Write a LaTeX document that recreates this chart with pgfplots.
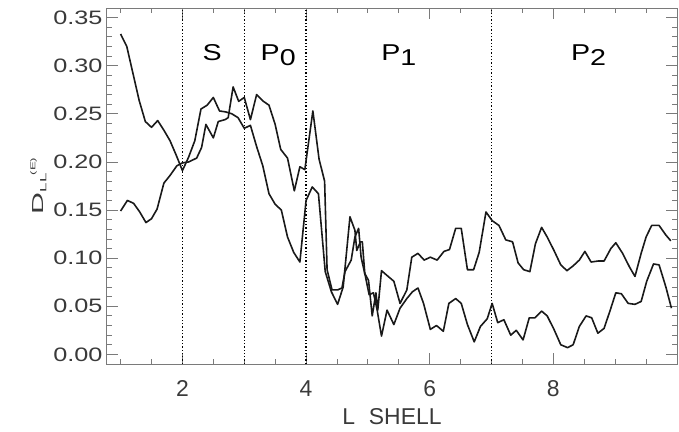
\documentclass[border=0pt]{standalone}
\usepackage{pgfplots}
\pgfplotsset{compat=1.18}
\usepackage{graphicx}
\usepackage{fontspec}
\setmainfont{Liberation Sans}
\definecolor{txt}{HTML}{3A3A3A}
\definecolor{axc}{HTML}{7A7A7A}
\newcommand{\yl}[1]{\scalebox{1.3}[1]{#1}}
\newcommand{\reg}[2]{\scalebox{1.25}[1]{#1\raisebox{-5bp}{#2}}}
\begin{document}
\begin{tikzpicture}
\useasboundingbox (-107bp,-68bp) rectangle (572bp,364bp);
\begin{axis}[
  at={(0,0)}, anchor=south west,
  scale only axis, width=570bp, height=356bp,
  xmin=0.78, xmax=10, ymin=-0.01, ymax=0.36,
  xtick={2,4,6,8}, xticklabels={2,4,6,8},
  minor xtick={1,1.5,2.5,3,3.5,4.5,5,5.5,6.5,7,7.5,8.5,9,9.5},
  ytick={0,0.05,0.10,0.15,0.20,0.25,0.30,0.35},
  yticklabels={\yl{0.00},\yl{0.05},\yl{0.10},\yl{0.15},\yl{0.20},\yl{0.25},\yl{0.30},\yl{0.35}},
  minor y tick num=4,
  tick align=inside,
  major tick length=11bp, minor tick length=5bp,
  every tick/.style={axc, line width=0.8bp},
  axis line style={axc, line width=1bp},
  xticklabel style={font=\fontsize{23}{24}\selectfont, text=txt, yshift=-13bp},
  yticklabel style={font=\fontsize{19.5}{20}\selectfont, text=txt, xshift=-1bp},
  xlabel={L\hspace{0.6em}SHELL},
  xlabel style={font=\fontsize{23}{24}\selectfont, text=txt, yshift=-5bp},
  ylabel={\scalebox{1.9}[1]{D\raisebox{-3bp}{\fontsize{9}{9}\selectfont LL}\kern-1bp\raisebox{8bp}{\fontsize{7}{7}\selectfont (E)}}},
  ylabel style={font=\fontsize{16}{16}\selectfont, text=txt, yshift=0bp},
  clip=true,
]
\addplot[black, line width=1.3bp, dash pattern=on 1.3bp off 2bp] coordinates {(2,-0.01) (2,0.36)};
\addplot[black, line width=1.3bp, dash pattern=on 1.3bp off 2bp] coordinates {(3,-0.01) (3,0.36)};
\addplot[black, line width=1.3bp, dash pattern=on 1.3bp off 2bp] coordinates {(4,-0.01) (4,0.36)};
\addplot[black, line width=1.3bp, dash pattern=on 1.3bp off 2bp] coordinates {(7,-0.01) (7,0.36)};
% curve A
\addplot[black!90, line width=1.6bp, line join=round] coordinates {
(1.00,0.333) (1.10,0.320) (1.20,0.292) (1.30,0.264) (1.40,0.242) (1.50,0.236)
(1.60,0.243) (1.70,0.233) (1.80,0.222) (1.90,0.207) (2.00,0.191) (2.10,0.205)
(2.20,0.222) (2.30,0.255) (2.40,0.259) (2.50,0.267) (2.60,0.253) (2.70,0.252)
(2.80,0.250) (2.90,0.246) (3.00,0.235) (3.10,0.238) (3.20,0.216) (3.30,0.196)
(3.40,0.167) (3.50,0.156) (3.60,0.150) (3.70,0.122) (3.80,0.106) (3.90,0.096)
(4.00,0.160) (4.10,0.174) (4.20,0.167) (4.31,0.086) (4.41,0.065) (4.51,0.052)
(4.60,0.070) (4.71,0.143) (4.79,0.129) (4.82,0.108) (4.88,0.117) (4.91,0.117)
(4.95,0.084) (5.01,0.077) (5.07,0.040) (5.13,0.064) (5.16,0.046) (5.22,0.087)
(5.31,0.082) (5.42,0.076) (5.52,0.053) (5.63,0.067) (5.71,0.101) (5.81,0.105)
(5.91,0.098) (6.01,0.101) (6.12,0.098) (6.23,0.107) (6.32,0.109) (6.42,0.131)
(6.51,0.131) (6.61,0.088) (6.71,0.088) (6.80,0.106) (6.91,0.148) (7.01,0.139)
(7.12,0.134) (7.23,0.119) (7.34,0.117) (7.43,0.095) (7.52,0.088) (7.62,0.086)
(7.71,0.115) (7.81,0.132) (7.90,0.122) (8.01,0.108) (8.12,0.093) (8.22,0.087)
(8.32,0.092) (8.42,0.098) (8.51,0.107) (8.61,0.096) (8.72,0.097) (8.82,0.097)
(8.93,0.110) (9.01,0.116) (9.12,0.105) (9.23,0.091) (9.32,0.081) (9.42,0.105)
(9.50,0.122) (9.59,0.134) (9.71,0.134) (9.82,0.124) (9.90,0.118)
};
% curve B
\addplot[black!90, line width=1.6bp, line join=round] coordinates {
(1.00,0.149) (1.11,0.160) (1.21,0.157) (1.31,0.148) (1.41,0.137) (1.50,0.141)
(1.59,0.151) (1.70,0.178) (1.80,0.186) (1.91,0.196) (2.00,0.199) (2.10,0.200)
(2.23,0.204) (2.31,0.215) (2.38,0.239) (2.50,0.225) (2.58,0.242) (2.69,0.244)
(2.74,0.246) (2.82,0.278) (2.91,0.263) (3.00,0.267) (3.10,0.244) (3.20,0.270)
(3.31,0.263) (3.40,0.259) (3.50,0.239) (3.59,0.213) (3.70,0.204) (3.81,0.170)
(3.90,0.195) (3.98,0.192) (4.11,0.253) (4.21,0.203) (4.30,0.180) (4.34,0.088)
(4.42,0.067) (4.51,0.067) (4.58,0.069) (4.63,0.086) (4.73,0.098) (4.79,0.122)
(4.85,0.131) (4.89,0.101) (4.96,0.081) (5.02,0.062) (5.09,0.064) (5.15,0.046)
(5.22,0.019) (5.31,0.046) (5.42,0.031) (5.52,0.048) (5.63,0.058) (5.72,0.065)
(5.81,0.069) (5.90,0.053) (6.01,0.026) (6.11,0.030) (6.22,0.024) (6.31,0.053)
(6.42,0.058) (6.51,0.053) (6.61,0.031) (6.72,0.013) (6.82,0.029) (6.93,0.037)
(7.01,0.053) (7.10,0.033) (7.20,0.036) (7.31,0.020) (7.40,0.025) (7.51,0.015)
(7.61,0.038) (7.70,0.038) (7.81,0.045) (7.90,0.040) (8.01,0.026) (8.12,0.010)
(8.23,0.007) (8.32,0.010) (8.42,0.029) (8.53,0.040) (8.62,0.038) (8.72,0.022)
(8.82,0.027) (8.92,0.046) (9.01,0.064) (9.10,0.063) (9.21,0.053) (9.32,0.052)
(9.42,0.055) (9.51,0.076) (9.62,0.094) (9.71,0.093) (9.82,0.070) (9.91,0.048)
};
\node[anchor=base, text=black, font=\fontsize{23}{23}\selectfont] at (axis cs:2.48,0.305) {\scalebox{1.25}[1]{S}};
\node[anchor=base, text=black, font=\fontsize{23}{23}\selectfont] at (axis cs:3.55,0.305) {\reg{P}{0}};
\node[anchor=base, text=black, font=\fontsize{23}{23}\selectfont] at (axis cs:5.50,0.305) {\reg{P}{1}};
\node[anchor=base, text=black, font=\fontsize{23}{23}\selectfont] at (axis cs:8.57,0.305) {\reg{P}{2}};
\end{axis}
\end{tikzpicture}
\end{document}
